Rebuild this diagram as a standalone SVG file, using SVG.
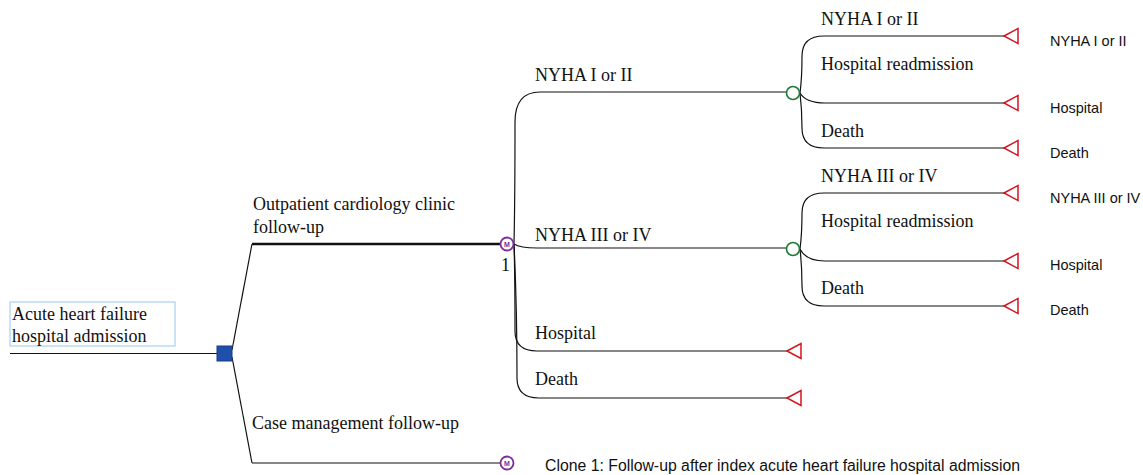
<svg xmlns="http://www.w3.org/2000/svg" xmlns:xlink="http://www.w3.org/1999/xlink" width="1143" height="475" viewBox="0 0 1143 475">
<style>
.ln{fill:none;stroke:#111;stroke-width:1.2}
.thick{fill:none;stroke:#111;stroke-width:2.4}
.tm{font-family:"Liberation Serif","Times New Roman",serif;font-size:18px;fill:#111}
.ar{font-family:"Liberation Sans",Arial,sans-serif;font-size:14.5px;fill:#111}
.cap{font-family:"Liberation Sans",Arial,sans-serif;font-size:15.8px;fill:#111}
.term{fill:#fff;stroke:#d3141e;stroke-width:1.5}
.chance{fill:#fff;stroke:#1d7a33;stroke-width:1.6}
.markov{fill:#fff;stroke:#7b2d9b;stroke-width:1.8}
.mtxt{font-family:"Liberation Sans",Arial,sans-serif;font-size:7px;font-weight:bold;fill:#7b2d9b;text-anchor:middle}
</style>
<defs>
<polygon id="tri" class="term" points="0,0 14,-7.5 14,7.5"/>
</defs>
<rect width="1143" height="475" fill="#fff"/>

<g id="connectors">
<line class="ln" x1="10" y1="353.5" x2="217" y2="353.5"/>
<path class="ln" d="M232,350 L252,244"/>
<path class="ln" d="M232,357 L252,463"/>
<line class="thick" x1="252" y1="244" x2="500" y2="244"/>
<line class="ln" x1="252" y1="463" x2="500" y2="463"/>
<path class="ln" d="M514,244 C515,200 515,150 515,122 Q515,92 540,92 L786,92"/>
<path class="ln" d="M514,244 Q520,248 537,248 L786,248"/>
<path class="ln" d="M514,244 C515,275 515,305 515,331 Q515,351 537,351 L787,351"/>
<path class="ln" d="M514,244 C516,285 517,335 517,378 Q517,398 539,398 L787,398"/>
<path class="ln" d="M800,93 C802,78 802,62 802,56 Q802,36 824,36 L1005,36"/>
<path class="ln" d="M800,93 Q806,103 825,103 L1005,103"/>
<path class="ln" d="M800,93 C802,110 802,122 802,128 Q802,148 824,148 L1005,148"/>
<path class="ln" d="M800,249 C802,234 802,220 802,213 Q802,193 824,193 L1005,193"/>
<path class="ln" d="M800,249 Q806,261 825,261 L1005,261"/>
<path class="ln" d="M800,249 C802,266 802,280 802,286 Q802,306 824,306 L1005,306"/>
</g>

<g id="root">
<rect x="10" y="302" width="165" height="44" fill="#fff" stroke="#a9d3ef" stroke-width="1.2"/>
<text class="tm" x="12" y="320">Acute heart failure</text>
<text class="tm" x="12" y="342">hospital admission</text>
</g>
<g id="decision">
<rect x="217" y="346" width="15" height="15" fill="#1f4fa8" stroke="#173f8a" stroke-width="1"/>
</g>
<g id="label-outpatient">
<text class="tm" x="253" y="210">Outpatient cardiology clinic</text>
<text class="tm" x="253" y="233">follow-up</text>
</g>
<g id="label-case">
<text class="tm" x="252" y="429">Case management follow-up</text>
</g>
<g id="markov-1">
<circle class="markov" cx="507" cy="244" r="6.5"/>
<text class="mtxt" x="507" y="246.5">M</text>
<text class="tm" x="501" y="271">1</text>
</g>
<g id="markov-2">
<circle class="markov" cx="507" cy="463" r="6.5"/>
<text class="mtxt" x="507" y="465.5">M</text>
</g>
<g id="state-labels">
<text class="tm" x="535" y="81">NYHA I or II</text>
<text class="tm" x="535" y="241">NYHA III or IV</text>
<text class="tm" x="535" y="339">Hospital</text>
<text class="tm" x="535" y="385">Death</text>
</g>
<g id="chance-1">
<circle class="chance" cx="793" cy="93" r="6.5"/>
<text class="tm" x="821" y="25">NYHA I or II</text>
<text class="tm" x="821" y="70">Hospital readmission</text>
<text class="tm" x="821" y="137">Death</text>
</g>
<g id="chance-2">
<circle class="chance" cx="793" cy="249" r="6.5"/>
<text class="tm" x="821" y="182">NYHA III or IV</text>
<text class="tm" x="821" y="227">Hospital readmission</text>
<text class="tm" x="821" y="294">Death</text>
</g>
<g id="terminal-hospital"><use xlink:href="#tri" x="787" y="351"/></g>
<g id="terminal-death"><use xlink:href="#tri" x="787" y="398"/></g>
<g id="terminal-1a"><use xlink:href="#tri" x="1004" y="36"/><text class="ar" x="1050" y="46">NYHA I or II</text></g>
<g id="terminal-1b"><use xlink:href="#tri" x="1004" y="103"/><text class="ar" x="1050" y="113">Hospital</text></g>
<g id="terminal-1c"><use xlink:href="#tri" x="1004" y="148"/><text class="ar" x="1050" y="158">Death</text></g>
<g id="terminal-2a"><use xlink:href="#tri" x="1004" y="193"/><text class="ar" x="1050" y="203">NYHA III or IV</text></g>
<g id="terminal-2b"><use xlink:href="#tri" x="1004" y="261"/><text class="ar" x="1050" y="270">Hospital</text></g>
<g id="terminal-2c"><use xlink:href="#tri" x="1004" y="306"/><text class="ar" x="1050" y="315">Death</text></g>
<g id="caption">
<text class="cap" x="545" y="471">Clone 1: Follow-up after index acute heart failure hospital admission</text>
</g>
</svg>
